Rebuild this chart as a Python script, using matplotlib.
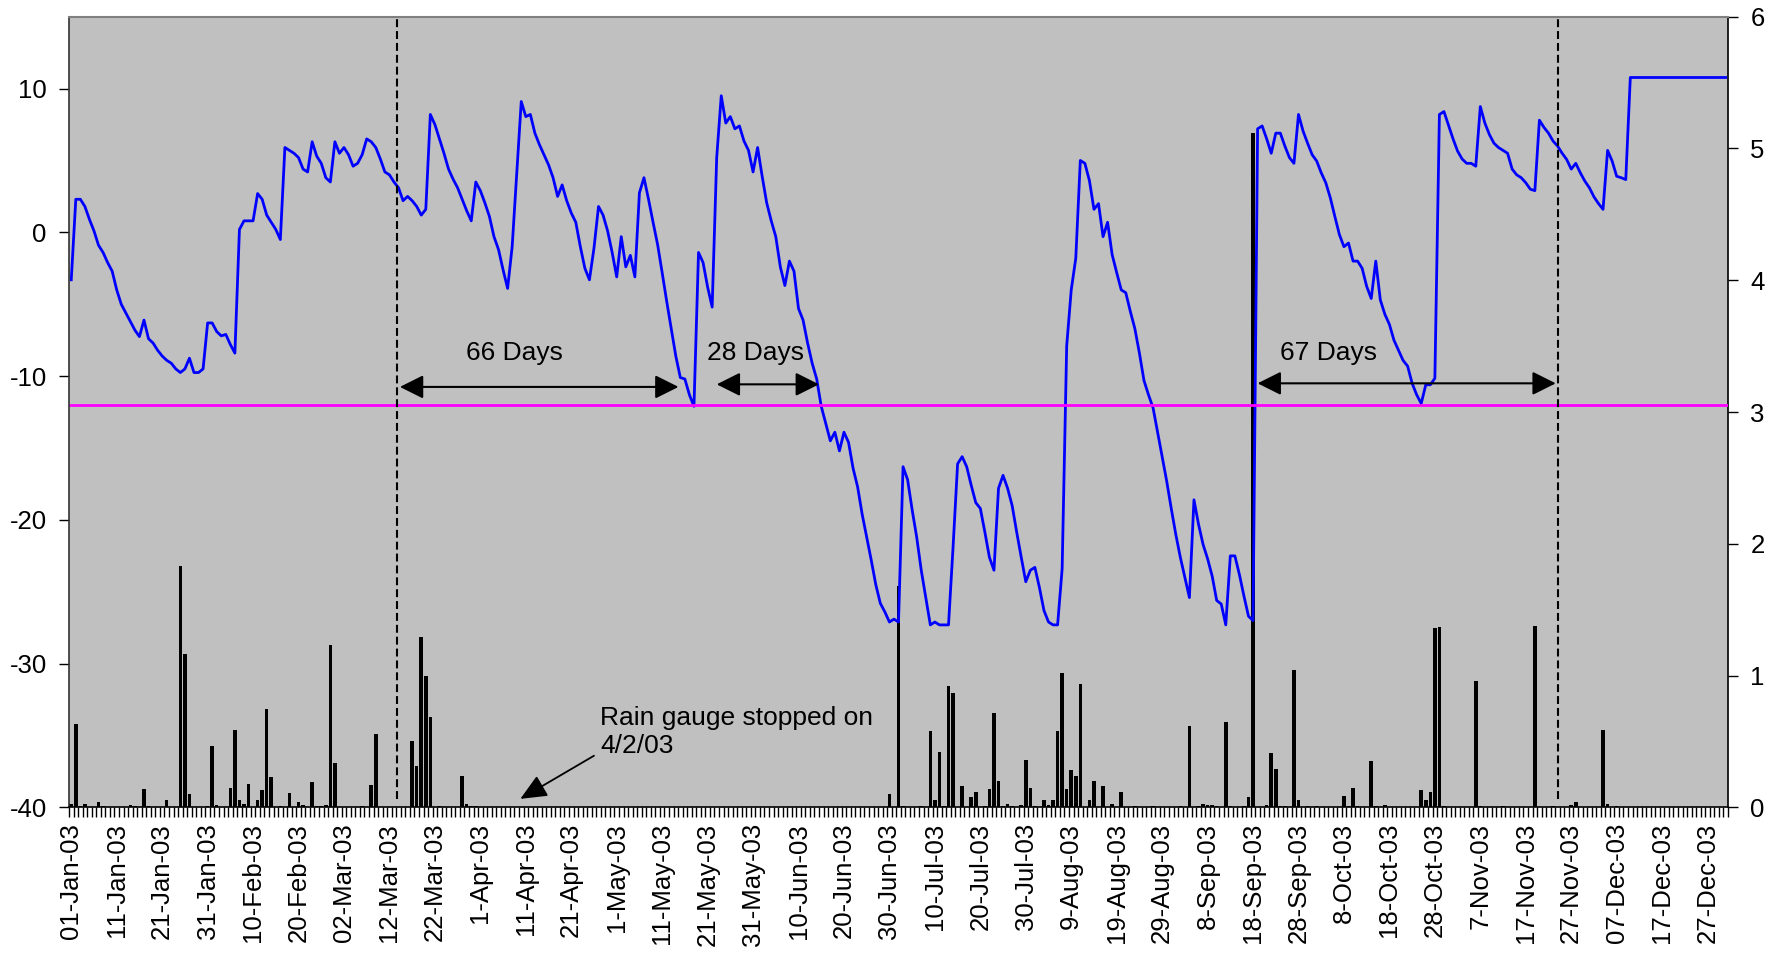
import numpy as np
import matplotlib
matplotlib.use("Agg")
import matplotlib.pyplot as plt

plt.rcParams['font.family'] = ['Liberation Sans', 'DejaVu Sans']
plt.rcParams['axes.unicode_minus'] = False

# daily water level (left axis), one value per day of 2003
level_jan = [-3.3, 2.3, 2.3, 1.8, 0.9, 0.1, -0.9, -1.4, -2.1, -2.7,
             -4.0, -5.0, -5.6, -6.2, -6.8, -7.25, -6.1, -7.4, -7.7, -8.2,
             -8.6, -8.9, -9.1, -9.5, -9.75, -9.5, -8.75, -9.75, -9.75, -9.5,
             -6.3]
level_feb = [-6.3, -6.9, -7.2, -7.1, -7.8, -8.4, 0.2, 0.8, 0.8, 0.8,
             2.7, 2.3, 1.2, 0.7, 0.2, -0.5, 5.9, 5.7, 5.5, 5.2,
             4.4, 4.2, 6.3, 5.3, 4.8, 3.8, 3.5, 6.3]
level_mar = [5.5, 5.9, 5.4, 4.6, 4.8, 5.4, 6.5, 6.3, 5.9, 5.1,
             4.2, 4.0, 3.5, 3.1, 2.2, 2.5, 2.2, 1.8, 1.2, 1.6,
             8.2, 7.5, 6.5, 5.5, 4.4, 3.7, 3.1, 2.3, 1.5, 0.8,
             3.5]
level_apr = [2.9, 2.05, 1.1, -0.3, -1.2, -2.6, -3.9, -1.0, 4.1, 9.1,
             8.05, 8.2, 6.9, 6.1, 5.4, 4.7, 3.8, 2.5, 3.3, 2.2,
             1.35, 0.7, -1.0, -2.5, -3.3, -1.1, 1.8, 1.2, 0.1, -1.4]
level_may = [-3.1, -0.3, -2.4, -1.6, -3.1, 2.75, 3.8, 2.3, 0.7, -0.85,
             -2.8, -4.8, -6.7, -8.6, -10.1, -10.2, -11.3, -12.1, -1.4, -2.1,
             -3.8, -5.2, 5.2, 9.5, 7.6, 8.05, 7.2, 7.4, 6.35, 5.7,
             4.2]
level_jun = [5.9, 3.9, 2.05, 0.8, -0.3, -2.4, -3.7, -2.0, -2.7, -5.3,
             -6.1, -7.7, -9.1, -10.2, -12.1, -13.3, -14.5, -13.9, -15.2, -13.9,
             -14.6, -16.4, -17.7, -19.6, -21.2, -22.8, -24.5, -25.8, -26.4, -27.1]
level_jul = [-26.9, -27.1, -16.3, -17.2, -19.3, -21.2, -23.5, -25.4, -27.3, -27.1,
             -27.3, -27.3, -27.3, -21.9, -16.1, -15.6, -16.3, -17.6, -18.8, -19.2,
             -20.85, -22.6, -23.5, -17.8, -16.9, -17.8, -19.0, -20.85, -22.6, -24.3,
             -23.5]
level_aug = [-23.3, -24.7, -26.3, -27.1, -27.3, -27.3, -23.4, -7.9, -4.0, -1.8,
             5.0, 4.8, 3.6, 1.6, 2.0, -0.3, 0.7, -1.55, -2.8, -4.0,
             -4.2, -5.5, -6.7, -8.4, -10.3, -11.3, -12.2, -13.9, -15.6, -17.3,
             -19.2]
level_sep = [-21.0, -22.6, -24.0, -25.4, -18.6, -20.3, -21.7, -22.7, -23.9, -25.6,
             -25.85, -27.3, -22.5, -22.5, -23.8, -25.3, -26.7, -27.0, 7.2, 7.4,
             6.5, 5.5, 6.9, 6.9, 6.0, 5.2, 4.8, 8.2, 7.05, 6.2]
level_oct = [5.4, 4.96, 4.14, 3.45, 2.4, 1.1, -0.16, -1.0, -0.74, -2.0,
             -2.0, -2.5, -3.76, -4.6, -2.0, -4.7, -5.7, -6.4, -7.5, -8.2,
             -8.9, -9.3, -10.5, -11.3, -11.9, -10.6, -10.6, -10.15, 8.2, 8.4,
             7.44]
level_nov = [6.5, 5.65, 5.1, 4.8, 4.8, 4.6, 8.75, 7.6, 6.8, 6.2,
             5.9, 5.7, 5.5, 4.4, 4.0, 3.8, 3.45, 3.0, 2.9, 7.8,
             7.3, 6.9, 6.35, 6.0, 5.5, 5.07, 4.4, 4.8, 4.14, 3.56]
level_dec = [3.1, 2.47, 2.0, 1.6, 5.7, 4.96, 3.9, 3.8, 3.67, 10.77,
             10.77, 10.77, 10.77, 10.77, 10.77, 10.77, 10.77, 10.77, 10.77, 10.77,
             10.77, 10.77, 10.77, 10.77, 10.77, 10.77, 10.77, 10.77, 10.77, 10.77,
             10.77]

# daily rainfall (right axis), only days with rain
rain_days = [0, 1, 2, 3, 6, 7, 13, 14, 16, 17, 21, 24, 25, 26, 30, 31, 32, 35, 36, 37,
             38, 39, 41, 42, 43, 44, 46, 48, 50, 51, 53, 54, 55, 56, 57, 58, 64, 66, 67, 75,
             76, 77, 78, 79, 81, 86, 87, 88, 89,
             180, 182, 183, 187, 189, 190, 191, 192, 193, 194, 196, 198, 199, 201, 202, 203,
             204, 205, 206, 207, 209, 210, 211, 212, 214, 215, 216, 217, 218, 219, 220, 221,
             222, 224, 225, 227, 229, 231, 234, 238, 244, 246, 248, 249, 250, 251, 252, 254,
             255, 258, 259, 260, 263, 264, 265, 266, 267, 269, 270, 272, 274, 280, 281, 282,
             283, 286, 287, 289, 297, 298, 299, 300, 301, 302, 309, 310, 315, 322, 326, 330,
             331, 337, 338, 340]
rain_vals = [0.03, 0.63, 0.01, 0.03, 0.04, 0.01, 0.02, 0.01, 0.14, 0.01, 0.06, 1.835, 1.165,
             0.1, 0.01, 0.47, 0.02, 0.15, 0.59, 0.06,
             0.03, 0.18, 0.06, 0.13, 0.75, 0.23, 0.01, 0.11, 0.04, 0.02, 0.19, 0.01, 0.01,
             0.02, 1.23, 0.335, 0.01, 0.17, 0.555, 0.505,
             0.315, 1.29, 1.0, 0.685, 0.01, 0.24, 0.03, 0.01, 0.01,
             0.1, 1.68, 0.01, 0.01, 0.58, 0.06, 0.42, 0.01, 0.925, 0.87, 0.16, 0.08, 0.12,
             0.01, 0.14, 0.72,
             0.2, 0.01, 0.03, 0.01, 0.02, 0.36, 0.15, 0.01, 0.06, 0.02, 0.06, 0.58, 1.02,
             0.14, 0.285, 0.24,
             0.935, 0.06, 0.2, 0.16, 0.03, 0.12, 0.01, 0.01, 0.01, 0.62, 0.01, 0.03, 0.02,
             0.02, 0.01, 0.65,
             0.01, 0.01, 0.08, 5.12, 0.02, 0.41, 0.29, 0.01, 0.01, 1.04, 0.06, 0.01, 0.01,
             0.09, 0.01, 0.15,
             0.01, 0.35, 0.01, 0.02, 0.13, 0.06, 0.12, 1.365, 1.37, 0.01, 0.96, 0.01, 0.01,
             1.38, 0.01, 0.02,
             0.04, 0.59, 0.03, 0.01]

tick_labels = ["01-Jan-03", "11-Jan-03", "21-Jan-03", "31-Jan-03", "10-Feb-03", "20-Feb-03",
               "02-Mar-03", "12-Mar-03", "22-Mar-03", "1-Apr-03", "11-Apr-03", "21-Apr-03",
               "1-May-03", "11-May-03", "21-May-03", "31-May-03", "10-Jun-03", "20-Jun-03",
               "30-Jun-03", "10-Jul-03", "20-Jul-03", "30-Jul-03", "9-Aug-03", "19-Aug-03",
               "29-Aug-03", "8-Sep-03", "18-Sep-03", "28-Sep-03", "8-Oct-03", "18-Oct-03",
               "28-Oct-03", "7-Nov-03", "17-Nov-03", "27-Nov-03", "07-Dec-03", "17-Dec-03",
               "27-Dec-03"]

threshold = -12
window_lines = [71.6, 327.0]
# (label, start day, end day, arrow level, label day)
spans = [("66 Days", 72.3, 133.6, -10.75, 97.6),
         ("28 Days", 142.0, 164.5, -10.57, 150.6),
         ("67 Days", 261.0, 326.6, -10.5, 276.5)]

level = np.array(level_jan + level_feb + level_mar + level_apr + level_may + level_jun +
                 level_jul + level_aug + level_sep + level_oct + level_nov + level_dec)
days = np.arange(len(level))
rain = np.zeros(len(level))
rain[rain_days] = rain_vals

fig = plt.figure(figsize=(17.78, 9.58), dpi=100)
ax = fig.add_axes([0.0388, 0.1571, 0.9331, 0.8255])
ax2 = ax.twinx()

# bars behind the line
ax.set_zorder(2)
ax.patch.set_visible(False)
ax2.patch.set_visible(True)
ax2.set_facecolor('#C0C0C0')

ax2.bar(days, rain, width=0.78, color='black', linewidth=0)
ax.plot(days, level, color='#0000FF', lw=2.0)
ax.axhline(threshold, color='#FF00FF', lw=2.0)
ax.vlines(window_lines, -39.4, 15, colors='black', linestyles=(0, (3.8, 1.9)), lw=1.5)

for label, x0, x1, y, xt in spans:
    ax.annotate('', xy=(x1, y), xytext=(x0, y),
                arrowprops=dict(arrowstyle='<|-|>,head_length=0.8,head_width=0.4',
                                mutation_scale=18, color='black', lw=1.5,
                                shrinkA=0, shrinkB=0))
    ax.text(xt, -8.4, label, ha='center', va='center', fontsize=19)

ax.annotate('', xy=(98.8, -39.4), xytext=(115.0, -36.4),
            arrowprops=dict(arrowstyle='-|>,head_length=0.9,head_width=0.4',
                            mutation_scale=18, color='black', lw=1.3,
                            shrinkA=0, shrinkB=0))
ax.text(116.3, -34.75, "Rain gauge stopped on\n4/2/03", ha='left', va='center',
        fontsize=19, linespacing=1.25)

ax.set_xlim(-0.5, len(level) - 0.5)
ax.set_ylim(-40, 15)
ax2.set_ylim(0, 6)
ax.set_xticks(np.arange(0, len(level), 10))
ax.set_xticklabels(tick_labels, rotation=90)
ax.set_xticks(np.arange(-0.5, len(level), 1), minor=True)
ax.tick_params(axis='x', which='major', length=0, pad=11, labelsize=18.5)
ax.tick_params(axis='x', which='minor', length=7, width=1, direction='out')
ax.set_yticks(np.arange(-40, 11, 10))
ax2.set_yticks(np.arange(0, 7, 1))
ax.tick_params(axis='y', length=7, width=1, pad=9, labelsize=18.5)
ax2.tick_params(axis='y', length=7, width=1, pad=9, labelsize=18.5)

ax.spines['right'].set_visible(False)
ax.spines['top'].set_color('#808080')
ax.spines['top'].set_linewidth(1.5)
ax.spines['left'].set_color('#333333')
ax.spines['left'].set_linewidth(1.2)
ax.spines['bottom'].set_color('black')
ax.spines['bottom'].set_linewidth(1.2)
for side in ['left', 'top', 'bottom']:
    ax2.spines[side].set_visible(False)
ax2.spines['right'].set_color('black')
ax2.spines['right'].set_linewidth(1.2)

fig.savefig("out.png", dpi=100)
